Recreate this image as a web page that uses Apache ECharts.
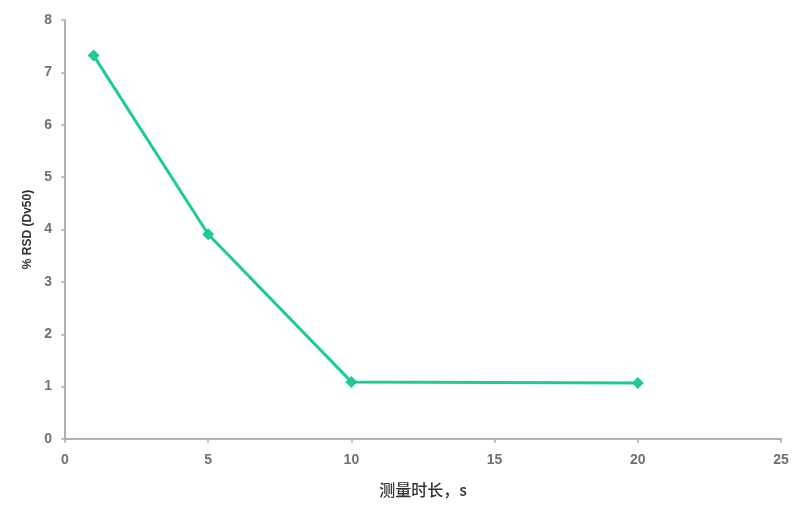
<!DOCTYPE html>
<html><head><meta charset="utf-8">
<script src="https://cdn.jsdelivr.net/npm/echarts@6/dist/echarts.min.js"></script>
<style>html,body{margin:0;padding:0;background:#fff}#c{width:800px;height:507px}</style>
</head><body><div id="c"></div>
<script>
const durations = [1, 5, 10, 20];
const rsdValues = [7.32, 3.91, 1.09, 1.07];
const xTitle = '测量时长，s';
const yTitle = '% RSD (Dv50)';

const chart = echarts.init(document.getElementById('c'));
chart.setOption({
  animation: false,
  backgroundColor: '#fff',
  grid: { left: 65, right: 19, top: 20, bottom: 68 },
  xAxis: {
    type: 'value', min: 0, max: 25, interval: 5,
    name: xTitle, nameLocation: 'middle', nameGap: 43,
    nameTextStyle: { fontFamily: 'Noto Sans CJK SC', fontSize: 16, fontWeight: 500, color: '#333' },
    axisLine: { lineStyle: { color: '#b0b0b0', width: 2 } },
    axisTick: { show: true, length: 4, lineStyle: { color: '#b0b0b0', width: 1.5 } },
    axisLabel: { color: '#707070', fontFamily: 'Liberation Sans', fontSize: 14, fontWeight: 'bold', margin: 14 },
    splitLine: { show: false }
  },
  yAxis: {
    type: 'value', min: 0, max: 8, interval: 1,
    name: yTitle, nameLocation: 'middle', nameGap: 31, nameRotate: 90,
    nameTextStyle: { fontFamily: 'Liberation Sans', fontSize: 12, fontWeight: 'bold', color: '#333' },
    axisLine: { show: true, lineStyle: { color: '#b0b0b0', width: 2 } },
    axisTick: { show: true, length: 4, lineStyle: { color: '#b0b0b0', width: 1.5 } },
    axisLabel: { color: '#707070', fontFamily: 'Liberation Sans', fontSize: 14, fontWeight: 'bold', margin: 13 },
    splitLine: { show: false }
  },
  series: [{
    type: 'line',
    data: durations.map((d, i) => [d, rsdValues[i]]),
    symbol: 'diamond', symbolSize: 12,
    lineStyle: { color: '#1ec99a', width: 3 },
    itemStyle: { color: '#1ec99a' }
  }]
});
</script></body></html>
